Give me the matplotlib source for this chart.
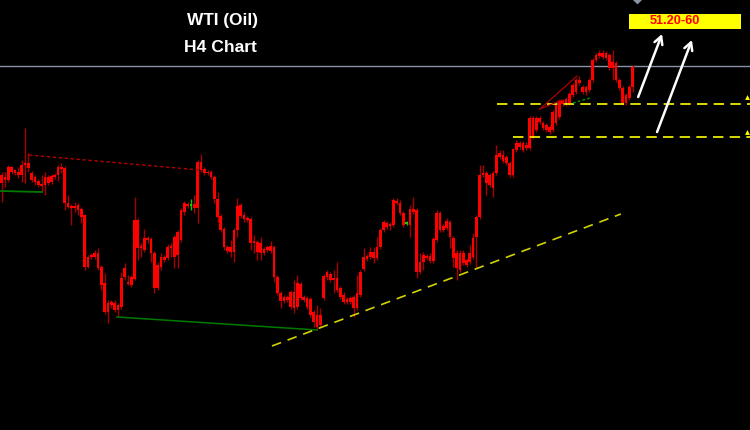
import matplotlib
matplotlib.use("Agg")
import matplotlib.pyplot as plt
from matplotlib.patches import Rectangle
import numpy as np

plt.rcParams['lines.scale_dashes'] = False

# ---------------- data (H4 candles, chart price units) ----------------
opens = [255,253,263,263,260,258,265,267,267,257,253,249,246,253,253,254,255,263,263,262,
         227,224,224,225,221,215,173,175,177,177,163,147,127,128,127,125,152,162,148,153,
         210,210,184,192,192,191,177,165,173,173,183,184,193,198,220,227,226,225,226,268,
         268,261,258,258,253,231,214,201,183,183,200,224,225,215,212,211,189,188,187,181,
         183,184,183,153,137,133,133,138,138,147,146,133,132,131,118,115,115,154,158,156,
         152,152,142,135,131,132,133,137,158,173,174,178,178,183,200,208,207,206,230,229,
         227,217,207,221,221,220,168,175,174,174,191,217,217,204,209,208,192,177,177,177,
         170,177,192,213,255,257,257,255,257,275,277,275,273,267,281,287,287,287,285,312,
         312,312,312,307,305,303,318,325,329,329,331,336,345,350,350,343,343,350,370,375,
         377,377,377,375,368,367,350,342,335,343,363]
closes = [247,250,250,258,257,255,255,265,262,250,248,245,244,245,247,248,253,255,261,227,
          223,222,222,220,213,163,163,173,173,162,145,118,118,125,120,120,123,153,146,145,
          151,182,182,180,190,177,142,142,163,170,172,182,173,175,190,218,224,225,222,222,
          260,257,257,253,231,213,200,183,179,178,178,200,214,211,210,187,187,178,177,177,
          180,179,153,137,129,129,130,123,122,123,132,130,123,115,108,103,105,132,153,150,
          150,140,133,128,128,128,122,122,135,161,171,173,172,172,183,200,203,204,205,227,
          217,205,207,205,218,158,158,168,172,169,169,190,200,200,202,193,172,162,160,167,
          165,168,173,193,213,255,247,245,242,257,273,269,267,255,255,280,283,280,282,282,
          293,300,308,302,300,298,300,307,313,326,326,327,335,338,347,338,338,340,350,370,
          374,373,372,362,362,350,342,327,327,332,343]
highs = [258,258,265,264,261,263,270,302,277,259,255,251,255,258,255,256,257,265,267,264,
         235,226,228,227,223,216,175,177,180,182,165,157,130,130,130,127,158,167,155,155,
         233,212,187,201,194,193,179,168,177,175,186,187,195,200,222,229,228,231,235,270,
         276,263,260,260,255,238,216,203,185,190,202,232,227,218,214,213,195,190,193,183,
         185,189,185,155,139,135,135,140,150,155,148,135,134,133,120,125,122,156,160,158,
         160,168,144,138,133,134,135,155,160,182,176,183,183,193,202,210,209,208,232,232,
         230,219,209,225,233,222,177,178,176,177,193,220,219,206,212,210,194,180,180,180,
         172,185,197,215,265,265,259,257,259,285,280,280,275,269,282,290,289,289,288,314,
         314,314,314,309,307,305,320,327,331,331,333,338,347,352,354,345,345,352,372,377,
         380,380,379,377,380,369,352,344,337,345,365]
lows = [228,243,248,256,255,252,248,247,258,248,245,243,238,235,245,246,251,249,257,220,
        222,205,218,215,207,160,162,171,171,160,140,116,107,122,118,113,121,150,145,143,
        150,170,173,178,187,168,137,140,160,168,170,173,162,162,188,215,222,220,217,207,
        258,255,255,251,227,208,198,180,177,173,168,193,212,208,208,180,177,170,170,175,
        178,177,148,135,122,127,128,121,117,121,130,128,121,113,103,100,103,130,150,148,
        137,138,131,126,126,126,113,120,133,159,169,171,167,170,181,198,201,200,203,225,
        215,203,205,193,216,152,156,160,170,167,167,188,198,198,200,182,163,150,158,165,
        163,166,171,162,211,253,235,243,233,255,271,267,265,253,253,278,281,278,280,280,
        291,298,306,300,298,296,298,305,311,324,324,325,333,336,345,336,335,338,348,368,
        372,371,370,360,350,348,340,325,325,330,338]

# analyst drawings: (candle index, price) anchors
red_dotted = ([8.2, 59.7], [275, 260])
green_short = ([-0.5, 12.1], [239, 238])
green_long = ([34.7, 95.0], [113, 100])
support_trend = ([81.4, 186.5], [84, 216])
level_upper, level_upper_start = 326, 149.2
level_lower, level_lower_start = 293, 154.0
gray_level = 364
wedge_a = ([162.1, 173.3], [321, 354])
wedge_b = ([162.1, 168.8], [321, 330])
green_dotted = ([172.1, 177.2], [327, 332])
arrow1 = ((191.7, 333), (198.9, 396))
arrow2 = ((197.4, 298), (207.9, 390))
target_box = (188.9, 401, 33.8, 15)
target_text = "51.20-60"
edge_marks = ([224.6, 224.6], [333, 298])

# ---------------- figure ----------------
fig = plt.figure(figsize=(7.5, 4.3), dpi=100, facecolor='black')
ax = fig.add_axes([0, 0, 1, 1])
ax.set_facecolor('black')
ax.set_xlim(-0.512, 225.39)
ax.set_ylim(0, 430)
ax.axis('off')

n = len(opens)
x = np.arange(n)
o = np.array(opens, float); c = np.array(closes, float)
h = np.array(highs, float); l = np.array(lows, float)
doji = o == c
body_col = np.where(doji, '#00dd00', '#ff0000')
wick_col = np.where(doji, '#00cc00', '#a80000')

ax.vlines(x, l, h, colors=wick_col, linewidth=1.0, zorder=2)
bot = np.minimum(o, c)
ht = np.maximum(np.abs(o - c), 1.4)
ax.bar(x, ht, bottom=bot - np.where(doji, 0.7, 0), width=0.8,
       color=body_col, linewidth=0, zorder=3)

# gray level
ax.axhline(gray_level, color='#8894a6', linewidth=1.0, zorder=1)

# drawings
ax.plot(*red_dotted, color='#b00000', linewidth=1.0, linestyle=(0, (2.5, 1.8)), zorder=4)
ax.plot(*green_short, color='#007a00', linewidth=1.3, zorder=4)
ax.plot(*green_long, color='#007a00', linewidth=1.1, zorder=4)
ax.plot(*support_trend, color='#d2d200', linewidth=1.2, linestyle=(0, (7, 5)), zorder=4)
ax.plot([level_upper_start, 226], [level_upper, level_upper], color='#ffff00',
        linewidth=1.2, linestyle=(0, (7.5, 4.5)), zorder=4)
ax.plot([level_lower_start, 226], [level_lower, level_lower], color='#ffff00',
        linewidth=1.2, linestyle=(0, (7.5, 4.5)), zorder=4)
ax.plot(*wedge_a, color='#b00000', linewidth=0.9, zorder=4)
ax.plot(*wedge_b, color='#b00000', linewidth=0.9, zorder=4)
ax.plot(*green_dotted, color='#008800', linewidth=1.1, linestyle=(0, (2, 1.5)), zorder=4)

for tail, tip in (arrow1, arrow2):
    ax.annotate('', xy=tip, xytext=tail,
                arrowprops=dict(arrowstyle='->,head_length=0.55,head_width=0.3',
                                color='white', lw=1.8, shrinkA=0, shrinkB=0),
                zorder=5)

ax.add_patch(Rectangle(target_box[:2], target_box[2], target_box[3],
                       facecolor='#ffff00', edgecolor='none', zorder=5))
ax.text(195.3, 408.5, target_text, color='#ff0000', fontsize=9.2, fontweight='bold',
        family='Liberation Sans', ha='left', va='center', zorder=6)

# tiny marker at top
ax.plot([191.4], [431], marker='D', markersize=4, color='#8894a6', clip_on=True)

# slivers of labels at the right edge
ax.plot(*edge_marks, linestyle='none', marker='^', markersize=3.5, color='#ffff00',
        markeredgewidth=0)

# titles
fig.text(222.5 / 750, 1 - 21 / 430, 'WTI (Oil)', color='white', fontsize=12.4,
         fontweight='bold', family='Liberation Sans', ha='center', va='center')
fig.text(220.5 / 750, 1 - 47 / 430, 'H4 Chart', color='white', fontsize=12.6,
         fontweight='bold', family='Liberation Sans', ha='center', va='center')

fig.savefig('out.png', dpi=100, facecolor='black')
